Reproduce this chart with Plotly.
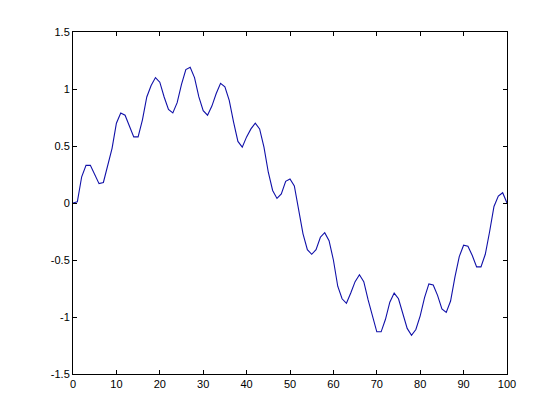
import plotly.graph_objects as go

x_values = list(range(0, 101))
y_values = [
    0.00, 0.01, 0.23, 0.33, 0.33, 0.25, 0.17, 0.18, 0.33, 0.48,
    0.70, 0.79, 0.77, 0.67, 0.58, 0.58, 0.73, 0.93, 1.03, 1.10,
    1.06, 0.93, 0.82, 0.79, 0.88, 1.04, 1.17, 1.19, 1.10, 0.93,
    0.81, 0.77, 0.85, 0.96, 1.05, 1.02, 0.90, 0.71, 0.54, 0.49,
    0.58, 0.65, 0.70, 0.65, 0.49, 0.27, 0.11, 0.04, 0.08, 0.19,
    0.21, 0.15, -0.07, -0.27, -0.41, -0.45, -0.41, -0.30, -0.26, -0.33,
    -0.50, -0.73, -0.84, -0.88, -0.79, -0.69, -0.63, -0.69, -0.85, -1.00,
    -1.13, -1.13, -1.02, -0.87, -0.79, -0.84, -0.96, -1.10, -1.16, -1.11,
    -0.99, -0.83, -0.71, -0.72, -0.81, -0.93, -0.96, -0.86, -0.65, -0.47,
    -0.37, -0.38, -0.46, -0.56, -0.56, -0.45, -0.25, -0.03, 0.06, 0.09,
    0.00,
]

x_tick_vals = [0, 10, 20, 30, 40, 50, 60, 70, 80, 90, 100]
x_tick_text = ["0", "10", "20", "30", "40", "50", "60", "70", "80", "90", "100"]
y_tick_vals = [-1.5, -1, -0.5, 0, 0.5, 1, 1.5]
y_tick_text = ["-1.5", "-1", "-0.5", "0", "0.5", "1", "1.5"]

fig = go.Figure()
fig.add_trace(go.Scatter(
    x=x_values, y=y_values, mode="lines",
    line=dict(color="#1010a8", width=1.1),
    showlegend=False, hoverinfo="skip",
))

axis_common = dict(
    showline=True, linecolor="black", linewidth=1, mirror="ticks",
    ticks="inside", ticklen=4, tickcolor="black", tickwidth=1,
    showgrid=False, zeroline=False,
    tickfont=dict(family="Liberation Sans, Arial, sans-serif", size=11, color="black"),
)

fig.update_layout(
    width=560, height=420,
    margin=dict(l=65, r=61, t=24, b=54, pad=0),
    paper_bgcolor="white", plot_bgcolor="white",
    xaxis=dict(range=[0, 100], tickmode="array", tickvals=x_tick_vals,
               ticktext=x_tick_text, **axis_common),
    yaxis=dict(range=[-1.5, 1.5], tickmode="array", tickvals=y_tick_vals,
               ticktext=y_tick_text, **axis_common),
)

fig.write_html("out.html")
